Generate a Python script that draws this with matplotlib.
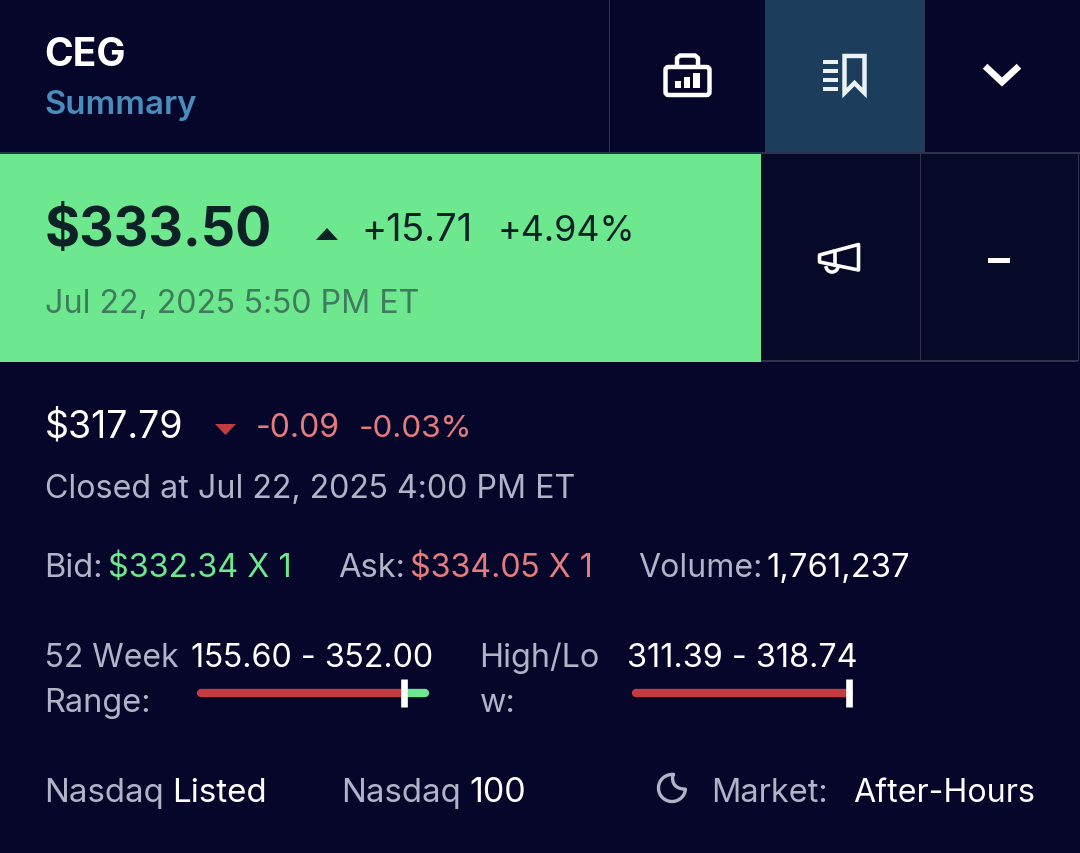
import numpy as np
import matplotlib
matplotlib.use("Agg")
import matplotlib.pyplot as plt
from matplotlib.patches import Rectangle, Polygon, FancyBboxPatch

plt.rcParams["font.family"] = "Inter"

# values
ticker = "CEG"
subtitle = "Summary"
price = "$333.50"
price_change = "+15.71"
price_pct = "+4.94%"
price_time = "Jul 22, 2025 5:50 PM ET"
close = "$317.79"
close_change = "-0.09"
close_pct = "-0.03%"
close_time = "Closed at Jul 22, 2025 4:00 PM ET"
bid = "$332.34 X 1"
ask = "$334.05 X 1"
volume = "1,761,237"
week_low = 155.60
week_high = 352.00
week_mark = 333.50
day_low = 311.39
day_high = 318.74
day_mark = 318.74

BG = "#05062a"
BG2 = "#070928"
GREEN = "#6de88e"
RED = "#c43c3f"
LIGHT_RED = "#e57b7d"
GREY = "#b1b3c7"
LINE = "#30314c"
WHITE = "#ffffff"
DARK = "#0d2226"

W, H = 1080, 853
fig = plt.figure(figsize=((W + 0.01) / 100, (H + 0.01) / 100), dpi=100, facecolor=BG)
ax = fig.add_axes([0, 0, 1, 1])
ax.set_xlim(0, W)
ax.set_ylim(H, 0)
ax.axis("off")


def txt(x, y, s, size, color=WHITE, weight="normal"):
    ax.text(x - 1.5, y, s, fontsize=size, color=color, fontweight=weight, va="baseline", ha="left")


def rect(x0, y0, x1, y1, color, z=1):
    ax.add_patch(Rectangle((x0, y0), x1 - x0, y1 - y0, fc=color, ec="none", zorder=z))


def range_bar(x0, x1, yc, low, high, mark, show_rest):
    # petite barre avec sa propre echelle low -> high
    bar = fig.add_axes([x0 / W, 1 - (yc + 12) / H, (x1 - x0) / W, 24 / H])
    bar.set_xlim(low, high)
    bar.set_ylim(-12, 12)
    bar.axis("off")
    bar.plot([low, mark], [0, 0], color=RED, lw=6.0, solid_capstyle="round", zorder=2, clip_on=False)
    if show_rest:
        bar.plot([mark, high], [0, 0], color=GREEN, lw=6.0, solid_capstyle="round", zorder=1, clip_on=False)
    bar.plot([mark, mark], [-14, 14], color=WHITE, lw=4.8, solid_capstyle="butt", zorder=3, clip_on=False)


# fonds et separations
rect(0, 154, 761, 362, GREEN)
rect(765, 0, 924, 153, "#1c3d5c")
rect(761, 154, 1080, 361, BG2)
rect(0, 152, 1080, 154, LINE, 2)
rect(0, 152, 761, 154, "#1f3d45", 3)
rect(761, 360.5, 1078, 362, LINE, 2)
rect(608.5, 0, 610, 152, LINE, 2)
rect(764.5, 0, 766, 152, LINE, 2)
rect(923.5, 0, 925, 152, LINE, 2)
rect(919.5, 154, 921, 361, LINE, 2)
rect(1077.5, 154, 1079, 361, LINE, 2)

# en-tete
txt(46, 66, ticker, 28, WHITE, "bold")
txt(46, 114, subtitle, 23.7, "#4a8dbd", "semibold")

# prix
txt(46, 246, price, 38.6, DARK, "bold")
ax.add_patch(Polygon([(316, 240), (338, 240), (327, 228)], fc=DARK, ec="none", zorder=3))
txt(362.5, 241, price_change, 27.4, DARK)
txt(499, 241, price_pct, 25.8, DARK)
txt(46, 313, price_time, 23.2, "#3f7c5d")

# cloture
txt(46, 437, close, 27, WHITE)
ax.add_patch(Polygon([(215, 424), (236, 424), (225.5, 435)], fc=RED, ec="none", zorder=3))
txt(257, 437, close_change, 23, LIGHT_RED)
txt(360, 437, close_pct, 22.6, LIGHT_RED)
txt(46, 498, close_time, 23.2, GREY)

# bid / ask / volume
txt(46, 577, "Bid:", 23.5, GREY)
txt(109.5, 577, bid, 23.3, GREEN)
txt(339.5, 577, "Ask:", 23.5, GREY)
txt(411, 577, ask, 23.2, LIGHT_RED)
txt(639.5, 577, "Volume:", 23.1, GREY)
txt(767.5, 577, volume, 23.6, WHITE)

# plages
txt(46, 667, "52 Week", 23, GREY)
txt(46, 712, "Range:", 23.4, GREY)
txt(192, 667, f"{week_low:.2f} - {week_high:.2f}", 23.3, WHITE)
range_bar(201, 425, 693, week_low, week_high, week_mark, True)
txt(481, 667, "High/Lo", 23.3, GREY)
txt(481, 712, "w:", 23.3, GREY)
txt(628.5, 667, f"{day_low:.2f} - {day_high:.2f}", 23.4, WHITE)
range_bar(636, 849, 693, day_low, day_high, day_mark, False)

# bas de page
txt(46, 802, "Nasdaq", 23.8, GREY)
txt(173.5, 802, "Listed", 23.9, WHITE)
txt(343, 802, "Nasdaq", 23.8, GREY)
txt(471, 802, "100", 24.5, WHITE)
txt(713, 802, "Market:", 23.4, GREY)
txt(855, 802, "After-Hours", 23.2, WHITE)

# icone mallette
ax.add_patch(FancyBboxPatch((665.5, 67), 44, 28, boxstyle="round,pad=0,rounding_size=3",
                            fc="none", ec=WHITE, lw=3.2, zorder=3))
ax.plot([677, 677, 680, 695, 698, 698], [66, 58, 55.5, 55.5, 58, 66], color=WHITE, lw=3.2, zorder=3)
rect(675, 81, 681, 88, WHITE, 3)
rect(684, 77, 690, 88, WHITE, 3)
rect(693, 73, 700, 88, WHITE, 3)

# icone liste + signet
for yl in (62, 71, 80, 89):
    rect(823, yl - 2.2, 838, yl + 2.2, "#eaf2f6", 3)
ax.add_patch(Polygon([(844.5, 56), (864.5, 56), (864.5, 93), (854.5, 83), (844.5, 93)],
                     fc="none", ec="#eaf2f6", lw=3.2, joinstyle="miter", zorder=3))

# chevron
ax.plot([987.5, 1002, 1016.5], [68.5, 82, 68.5], color=WHITE, lw=4.8, solid_joinstyle="miter", zorder=3)

# megaphone
ax.add_patch(Polygon([(819.5, 255), (858.5, 244.5), (858.5, 270), (819.5, 262)],
                     fc="none", ec=WHITE, lw=2.6, joinstyle="round", zorder=3))
ax.plot([834.5, 834.5], [251, 265], color=WHITE, lw=2.6, zorder=3)
t = np.linspace(0.1, np.pi - 0.3, 30)
ax.plot(832 + 6 * np.cos(t), 266 + 6 * np.sin(t), color=WHITE, lw=2.6, zorder=3)

# tiret
rect(988, 258, 1010, 263.5, WHITE, 3)

# lune : arc exterieur puis courbe interieure
ang = np.radians(np.linspace(-86, -355, 60))
ox = 672 + 13.5 * np.cos(ang)
oy = 788 + 13.5 * np.sin(ang)
u = np.linspace(0, 1, 30)
ix = (1 - u) ** 2 * ox[-1] + 2 * u * (1 - u) * 670.5 + u ** 2 * ox[0]
iy = (1 - u) ** 2 * oy[-1] + 2 * u * (1 - u) * 788.5 + u ** 2 * oy[0]
ax.plot(np.r_[ox, ix], np.r_[oy, iy], color=GREY, lw=2.4, zorder=3)

fig.savefig("out.png", dpi=100, facecolor=BG)
